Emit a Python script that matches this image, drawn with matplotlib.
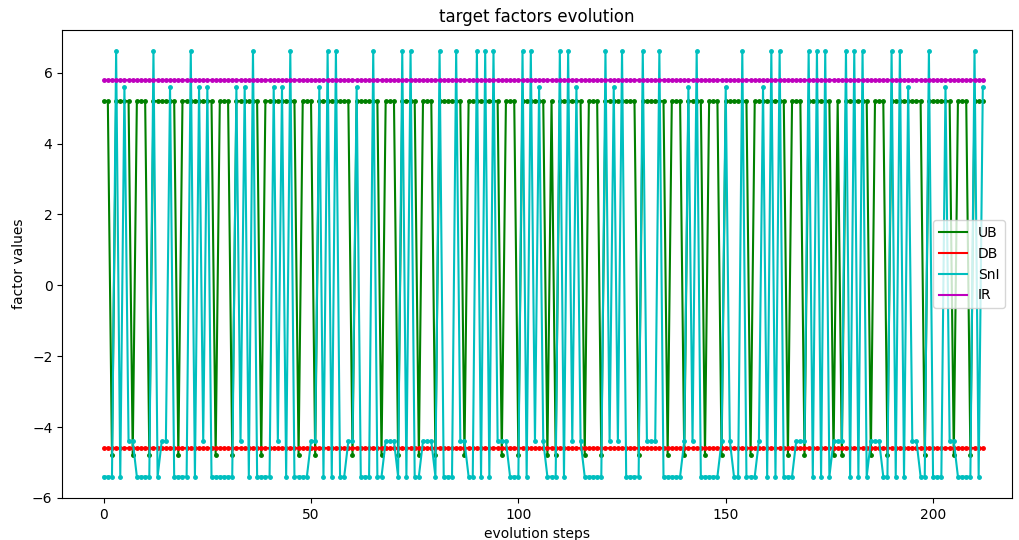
import matplotlib
matplotlib.use("Agg")
import matplotlib.pyplot as plt

# values, one per evolution step (0..212)
ub = [
    5.2, 5.2, -4.8, 5.2, 5.2, 5.2, 5.2, -4.8, 5.2, 5.2,
    5.2, -4.8, 5.2, 5.2, 5.2, 5.2, 5.2, 5.2, -4.8, 5.2,
    5.2, 5.2, 5.2, 5.2, 5.2, 5.2, 5.2, -4.8, 5.2, 5.2,
    5.2, -4.8, 5.2, 5.2, 5.2, 5.2, 5.2, 5.2, -4.8, 5.2,
    5.2, 5.2, 5.2, 5.2, 5.2, 5.2, 5.2, -4.8, 5.2, 5.2,
    5.2, -4.8, 5.2, 5.2, 5.2, 5.2, 5.2, 5.2, 5.2, 5.2,
    -4.8, 5.2, 5.2, 5.2, 5.2, 5.2, 5.2, -4.8, 5.2, 5.2,
    5.2, -4.8, 5.2, 5.2, 5.2, 5.2, -4.8, 5.2, 5.2, 5.2,
    -4.8, 5.2, 5.2, 5.2, 5.2, 5.2, 5.2, -4.8, 5.2, 5.2,
    5.2, 5.2, 5.2, 5.2, 5.2, 5.2, -4.8, 5.2, 5.2, 5.2,
    -4.8, 5.2, 5.2, 5.2, 5.2, 5.2, 5.2, -4.8, 5.2, -4.8,
    5.2, 5.2, 5.2, 5.2, 5.2, 5.2, -4.8, 5.2, 5.2, 5.2,
    -4.8, 5.2, 5.2, 5.2, 5.2, 5.2, 5.2, 5.2, 5.2, -4.8,
    5.2, 5.2, 5.2, 5.2, 5.2, 5.2, -4.8, 5.2, 5.2, 5.2,
    -4.8, 5.2, 5.2, 5.2, 5.2, -4.8, 5.2, 5.2, 5.2, -4.8,
    5.2, 5.2, 5.2, 5.2, 5.2, 5.2, -4.8, 5.2, 5.2, 5.2,
    5.2, 5.2, 5.2, 5.2, 5.2, -4.8, 5.2, 5.2, 5.2, -4.8,
    5.2, 5.2, 5.2, 5.2, 5.2, 5.2, -4.8, 5.2, -4.8, 5.2,
    5.2, 5.2, 5.2, 5.2, 5.2, -4.8, 5.2, 5.2, 5.2, -4.8,
    5.2, 5.2, 5.2, 5.2, 5.2, 5.2, 5.2, 5.2, -4.8, 5.2,
    5.2, 5.2, 5.2, 5.2, 5.2, -4.8, 5.2, 5.2, 5.2, -4.8,
    5.2, 5.2, 5.2,
]

sni = [
    -5.4, -5.4, -5.4, 6.6, -5.4, 5.6, -4.4, -4.4, -5.4, -5.4,
    -5.4, -5.4, 6.6, -5.4, -4.4, -4.4, 5.6, -5.4, -5.4, -5.4,
    -5.4, 6.6, -5.4, 5.6, -4.4, 5.6, -5.4, -5.4, -5.4, -5.4,
    -5.4, -5.4, 5.6, -4.4, 5.6, -5.4, 6.6, -5.4, -5.4, -5.4,
    -5.4, 5.6, -4.4, 5.6, -5.4, 6.6, -5.4, -5.4, -5.4, -5.4,
    -4.4, -4.4, 5.6, -5.4, 6.6, -5.4, 6.6, -5.4, -5.4, -4.4,
    -4.4, 5.6, -5.4, -5.4, -5.4, 6.6, -5.4, -5.4, -4.4, -4.4,
    -4.4, -5.4, 6.6, -5.4, 6.6, -5.4, -5.4, -4.4, -4.4, -4.4,
    -5.4, 6.6, -5.4, -5.4, -5.4, 6.6, -4.4, -4.4, -5.4, -5.4,
    6.6, -5.4, 6.6, -5.4, 6.6, -4.4, -4.4, -4.4, -5.4, -5.4,
    -5.4, 6.6, -5.4, 6.6, -4.4, 5.6, -4.4, -5.4, -5.4, -5.4,
    6.6, -5.4, 6.6, -4.4, 5.6, -4.4, -5.4, -5.4, -5.4, -5.4,
    -5.4, 6.6, -4.4, 5.6, -4.4, 6.6, -5.4, -5.4, -5.4, -5.4,
    6.6, -4.4, -4.4, -4.4, 6.6, -5.4, -5.4, -5.4, -5.4, -5.4,
    -4.4, 5.6, -4.4, 6.6, -5.4, -5.4, -5.4, -5.4, -5.4, -4.4,
    5.6, -4.4, -5.4, -5.4, 6.6, -5.4, -5.4, -5.4, -4.4, 5.6,
    -5.4, 6.6, -5.4, 6.6, -5.4, -5.4, -5.4, -4.4, -4.4, -4.4,
    6.6, -5.4, 6.6, -5.4, 6.6, -5.4, -4.4, -4.4, -4.4, 6.6,
    -5.4, 6.6, -5.4, 6.6, -5.4, -4.4, -4.4, -4.4, -5.4, -5.4,
    6.6, -5.4, 6.6, -5.4, 5.6, -4.4, -4.4, -5.4, -5.4, 6.6,
    -5.4, -5.4, -5.4, 5.6, -4.4, -4.4, -5.4, -5.4, -5.4, -5.4,
    6.6, -5.4, 5.6,
]

db_level = -4.6
ir_level = 5.8

steps = list(range(len(ub)))
db = [db_level for _ in steps]
ir = [ir_level for _ in steps]

series = [("UB", ub, "g"), ("DB", db, "r"), ("SnI", sni, "c"), ("IR", ir, "m")]

fig = plt.figure(figsize=(10.2, 5.4), dpi=100)
ax = fig.add_axes([0.061, 0.078, 0.931, 0.866])

for name, vals, col in series:
    ax.plot(steps, vals, color=col, label=name)
    ax.plot(steps, vals, ".", color=col, markersize=5)

ax.set_xlim(-10, 219)
ax.set_title("target factors evolution")
ax.set_xlabel("evolution steps")
ax.set_ylabel("factor values")
ax.legend(loc="center right")

fig.savefig("out.png")
